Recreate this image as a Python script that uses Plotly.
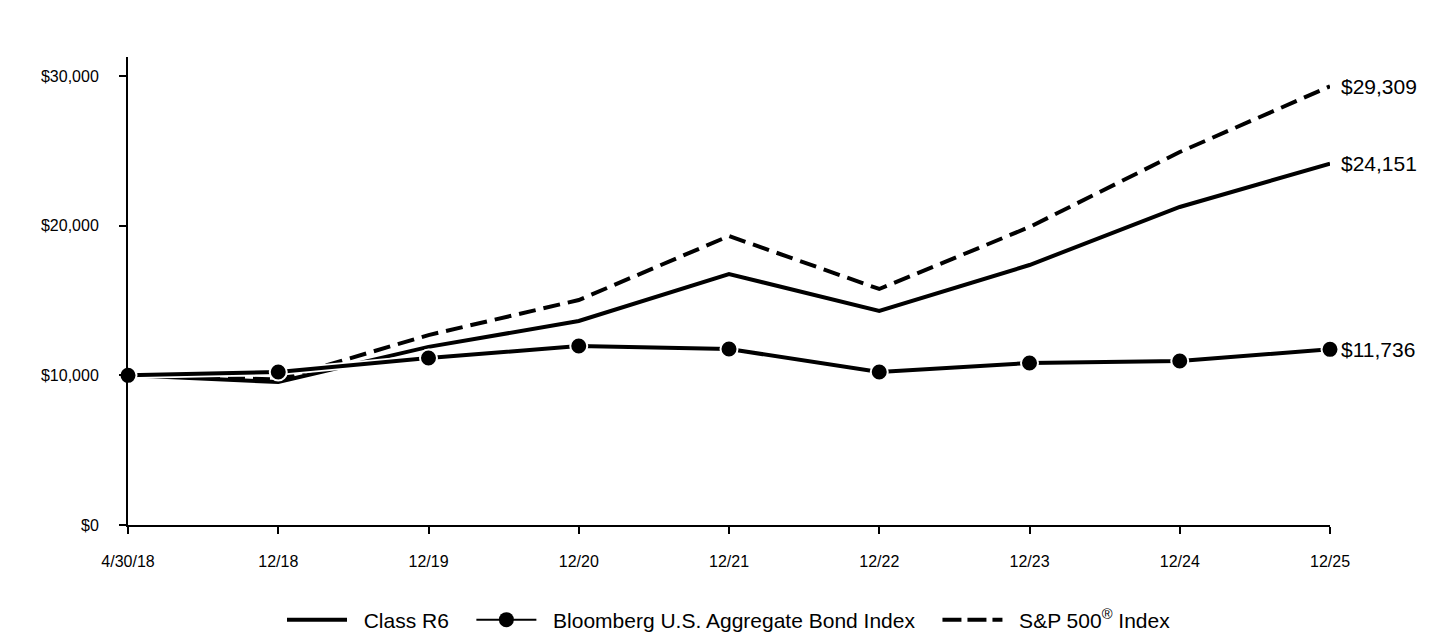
import plotly.graph_objects as go

categories = ["4/30/18", "12/18", "12/19", "12/20", "12/21", "12/22", "12/23", "12/24", "12/25"]
class_r6 = [10000, 9550, 11900, 13630, 16770, 14300, 17370, 21250, 24151]
bond_index = [10000, 10220, 11160, 11960, 11760, 10220, 10820, 10960, 11736]
sp500 = [10000, 9720, 12690, 15030, 19310, 15770, 19910, 24920, 29309]
end_labels = ["$29,309", "$24,151", "$11,736"]
y_ticks = [0, 10000, 20000, 30000]
y_tick_text = ["$0", "$10,000", "$20,000", "$30,000"]

FONT = "Liberation Sans, Arial, sans-serif"
x_idx = list(range(len(categories)))
NB = "\u00a0"

fig = go.Figure()

# white casings
fig.add_trace(go.Scatter(x=x_idx, y=class_r6, mode="lines", line=dict(color="white", width=7.5),
                         showlegend=False, hoverinfo="skip"))
fig.add_trace(go.Scatter(x=x_idx, y=class_r6, mode="lines", line=dict(color="black", width=4),
                         showlegend=False, name="Class R6"))
fig.add_trace(go.Scatter(x=x_idx, y=sp500, mode="lines",
                         line=dict(color="black", width=4, dash="17px,8px"),
                         showlegend=False, name="S&P 500® Index"))
fig.add_trace(go.Scatter(x=x_idx, y=bond_index, mode="lines", line=dict(color="white", width=7.5),
                         showlegend=False, hoverinfo="skip"))
fig.add_trace(go.Scatter(x=x_idx, y=bond_index, mode="lines+markers",
                         line=dict(color="black", width=4), cliponaxis=False,
                         marker=dict(color="black", size=17, line=dict(color="white", width=2)),
                         showlegend=False, name="Bloomberg U.S. Aggregate Bond Index"))

# legend entries
fig.add_trace(go.Scatter(x=[None], y=[None], mode="lines", line=dict(color="black", width=4),
                         name=NB * 2 + "Class R6" + NB * 3))
fig.add_trace(go.Scatter(x=[None], y=[None], mode="lines+markers", line=dict(color="black", width=2),
                         marker=dict(color="black", size=15),
                         name=NB * 2 + "Bloomberg U.S. Aggregate Bond Index" + NB * 3))
fig.add_trace(go.Scatter(x=[None], y=[None], mode="lines",
                         line=dict(color="black", width=4, dash="19px,6px"),
                         name=NB * 2 + "S&P 500<sup>®</sup> Index"))

# end labels
for series, lab in zip([sp500, class_r6, bond_index], end_labels):
    fig.add_annotation(x=x_idx[-1], y=series[-1], text=lab, showarrow=False,
                       xanchor="left", yanchor="middle", xshift=9,
                       font=dict(size=21, color="black", family=FONT))

fig.update_layout(
    width=1440, height=636,
    margin=dict(l=120, r=118, t=49, b=119, autoexpand=False),
    paper_bgcolor="white", plot_bgcolor="white",
    font=dict(family=FONT, color="black"),
    showlegend=True,
    legend=dict(orientation="h", x=0.5, xanchor="center", y=-0.203, yanchor="middle",
                font=dict(size=21, color="black", family=FONT), itemwidth=60,
                traceorder="normal"),
)
fig.update_xaxes(
    range=[0, 8], tickmode="array", tickvals=x_idx, ticktext=categories,
    showgrid=False, zeroline=False, showline=True, linecolor="black", linewidth=2,
    ticks="outside", ticklen=7, tickwidth=2, tickcolor="black",
    tickfont=dict(size=16, family=FONT), ticklabelstandoff=14,
)
fig.update_yaxes(
    range=[0, 31270], tickmode="array", tickvals=y_ticks, ticktext=y_tick_text,
    showgrid=False, zeroline=False, showline=True, linecolor="black", linewidth=2,
    ticks="outside", ticklen=7, tickwidth=2, tickcolor="black",
    tickfont=dict(size=16, family=FONT), ticklabelstandoff=17,
)

fig.write_html("out.html")
